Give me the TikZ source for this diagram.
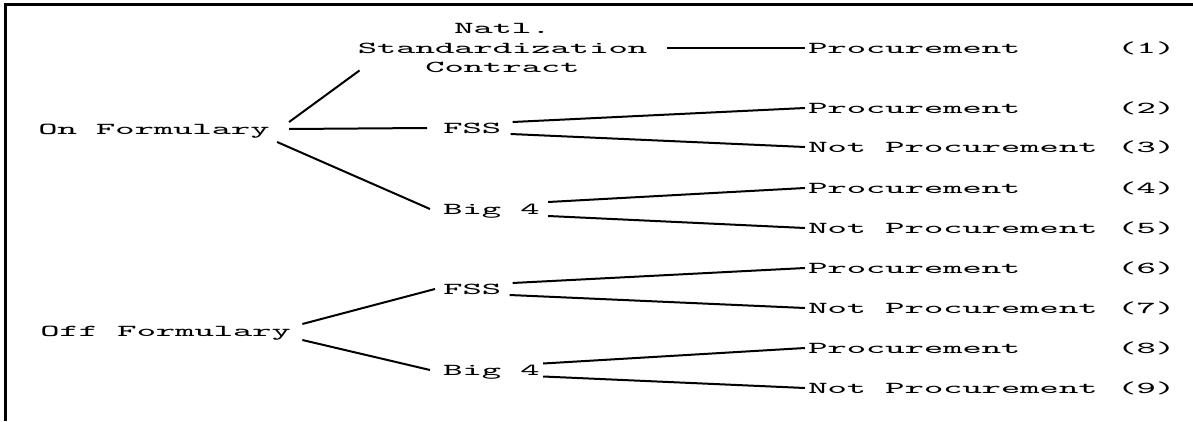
\documentclass[tikz,border=0pt]{standalone}
\usepackage{fontspec}
\setmonofont[FakeStretch=2.2]{Latin Modern Mono}
\begin{document}
\begin{tikzpicture}[
    lbl/.style={font=\ttfamily\fontsize{9.5}{11.34}\selectfont, inner sep=0pt,
                anchor=west, text height=0.21cm, text depth=0cm},
    blk/.style={font=\ttfamily\fontsize{9.5}{11.34}\selectfont, inner sep=0pt,
                align=center},
    branch/.style={line width=0.04cm}
  ]
                \useasboundingbox (0.000000,0.000000) rectangle (23.860000,8.420000);
                
                % Drawing frame (top and left edge)
                \draw [line width=0.06cm] (23.860000,8.330000) -- (0.100000,8.330000) -- (0.100000,0.000000);%
                
                % Marking roots
                \node [lbl] (onf) at (0.760000,5.840000) {On Formulary};%
                \node [lbl] (offf) at (0.800000,1.800000) {Off Formulary};%
                
                % Marking contract types
                \node [blk] (nsc) at (10.050000,7.460000) {Natl.\\Standardization\\Contract};%
                \node [lbl] (fssa) at (8.860000,5.860000) {FSS};%
                \node [lbl] (biga) at (8.860000,4.240000) {Big 4};%
                \node [lbl] (fssb) at (8.860000,2.640000) {FSS};%
                \node [lbl] (bigb) at (8.860000,1.020000) {Big 4};%
                
                % Marking outcomes
                \node [lbl] (p1) at (16.160000,7.460000) {Procurement};%
                \node [lbl] (p2) at (16.160000,6.260000) {Procurement};%
                \node [lbl] (p3) at (16.160000,5.480000) {Not Procurement};%
                \node [lbl] (p4) at (16.160000,4.660000) {Procurement};%
                \node [lbl] (p5) at (16.160000,3.860000) {Not Procurement};%
                \node [lbl] (p6) at (16.160000,3.060000) {Procurement};%
                \node [lbl] (p7) at (16.160000,2.260000) {Not Procurement};%
                \node [lbl] (p8) at (16.160000,1.460000) {Procurement};%
                \node [lbl] (p9) at (16.160000,0.660000) {Not Procurement};%
                
                % Marking outcome numbers
                \node [lbl] (n1) at (22.340000,7.460000) {(1)};%
                \node [lbl] (n2) at (22.340000,6.260000) {(2)};%
                \node [lbl] (n3) at (22.340000,5.480000) {(3)};%
                \node [lbl] (n4) at (22.340000,4.660000) {(4)};%
                \node [lbl] (n5) at (22.340000,3.860000) {(5)};%
                \node [lbl] (n6) at (22.340000,3.060000) {(6)};%
                \node [lbl] (n7) at (22.340000,2.260000) {(7)};%
                \node [lbl] (n8) at (22.340000,1.460000) {(8)};%
                \node [lbl] (n9) at (22.340000,0.660000) {(9)};%
                
                % Drawing branches of On Formulary
                \draw [branch] ([xshift=0.38cm,yshift=0.14cm]onf.east) -- ([xshift=0.04cm,yshift=0.06cm]nsc.south west);%
                \draw [branch] ([xshift=0.38cm]onf.east) -- ([xshift=-0.32cm]fssa.west);%
                \draw [branch] ([xshift=0.14cm,yshift=-0.26cm]onf.east) -- ([xshift=-0.26cm]biga.west);%
                
                % Drawing branches of Off Formulary
                \draw [branch] ([xshift=0.22cm,yshift=0.14cm]offf.east) -- ([xshift=-0.16cm]fssb.west);%
                \draw [branch] ([xshift=0.22cm,yshift=-0.18cm]offf.east) -- ([xshift=-0.26cm]bigb.west);%
                
                % Drawing line Natl. Standardization Contract p1
                \draw [branch] ([xshift=0.40cm]nsc.east) -- ([xshift=-0.06cm]p1.west);%
                
                % Drawing lines FSS p2 p3
                \draw [branch] ([xshift=0.22cm,yshift=0.12cm]fssa.east) -- ([xshift=-0.06cm]p2.west);%
                \draw [branch] ([xshift=0.18cm,yshift=-0.12cm]fssa.east) -- ([xshift=-0.06cm]p3.west);%
                
                % Drawing lines Big 4 p4 p5
                \draw [branch] ([xshift=0.16cm,yshift=0.14cm]biga.east) -- ([xshift=-0.06cm]p4.west);%
                \draw [branch] ([xshift=0.16cm,yshift=-0.14cm]biga.east) -- ([xshift=-0.06cm]p5.west);%
                
                % Drawing lines FSS p6 p7
                \draw [branch] ([xshift=0.22cm,yshift=0.12cm]fssb.east) -- ([xshift=-0.06cm]p6.west);%
                \draw [branch] ([xshift=0.16cm,yshift=-0.12cm]fssb.east) -- ([xshift=-0.06cm]p7.west);%
                
                % Drawing lines Big 4 p8 p9
                \draw [branch] ([xshift=0.06cm,yshift=0.13cm]bigb.east) -- ([xshift=-0.06cm]p8.west);%
                \draw [branch] ([xshift=0.06cm,yshift=-0.13cm]bigb.east) -- ([xshift=-0.06cm]p9.west);%
\end{tikzpicture}
\end{document}
